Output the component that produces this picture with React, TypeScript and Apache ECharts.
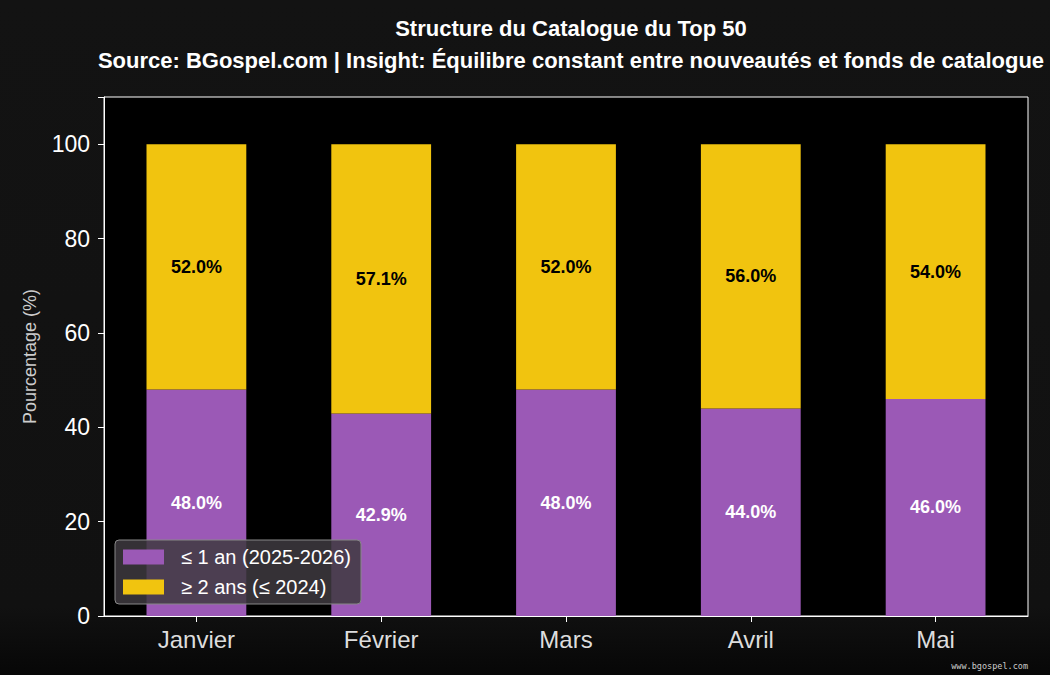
import React, { useEffect, useRef } from "react";
import * as echarts from "echarts";

const months = ["Janvier", "Février", "Mars", "Avril", "Mai"];
const recent = [48.0, 42.9, 48.0, 44.0, 46.0];
const catalogue = [52.0, 57.1, 52.0, 56.0, 54.0];
const seriesNames = ["≤ 1 an (2025-2026)", "≥ 2 ans (≤ 2024)"];
const yTicks = [0, 20, 40, 60, 80, 100];

export default function App() {
  const ref = useRef<HTMLDivElement>(null);
  useEffect(() => {
    if (!ref.current) return;
    const chart = echarts.init(ref.current, undefined, { renderer: "svg" });
    const font = "'Liberation Sans', Arial, sans-serif";
    chart.setOption({
      animation: false,
      backgroundColor: {
        type: "linear",
        x: 0, y: 0, x2: 0, y2: 1,
        colorStops: [
          { offset: 0, color: "#131313" },
          { offset: 0.9, color: "#111111" },
          { offset: 1, color: "#070707" },
        ],
      },
      title: [
        {
          text: "Structure du Catalogue du Top 50",
          left: 566,
          top: 12,
          textAlign: "center",
          textStyle: { color: "#ffffff", fontSize: 22, fontWeight: "bold", fontFamily: font },
        },
        {
          text: "Source: BGospel.com | Insight: Équilibre constant entre nouveautés et fonds de catalogue",
          left: 566,
          top: 44,
          textAlign: "center",
          textStyle: { color: "#ffffff", fontSize: 22, fontWeight: "bold", fontFamily: font },
        },
      ],
      grid: {
        left: 104,
        right: 22,
        top: 97,
        bottom: 59,
        show: true,
        backgroundColor: "#000000",
        borderColor: "#ffffff",
        borderWidth: 1,
      },
      legend: {
        left: 115,
        top: 540,
        orient: "vertical",
        data: seriesNames,
        icon: "rect",
        itemWidth: 41,
        itemHeight: 15,
        itemGap: 10,
        padding: [7, 10, 7, 8],
        backgroundColor: "rgba(62,58,64,0.85)",
        borderColor: "#888888",
        borderWidth: 1,
        borderRadius: 4,
        textStyle: { color: "#ffffff", fontSize: 20, fontFamily: font, padding: [0, 0, 0, 12] },
      },
      xAxis: {
        type: "category",
        data: months,
        axisLine: { show: true, lineStyle: { color: "#ffffff", width: 1 } },
        axisTick: { show: true, alignWithLabel: true, length: 6, lineStyle: { color: "#ffffff" } },
        axisLabel: { color: "#dddddd", fontSize: 24, fontFamily: font, margin: 11 },
      },
      yAxis: {
        type: "value",
        min: 0,
        max: 110,
        interval: 20,
        name: "Pourcentage (%)",
        nameLocation: "middle",
        nameGap: 65,
        nameTextStyle: { color: "#cccccc", fontSize: 18, fontFamily: font },
        axisLine: { show: true, lineStyle: { color: "#ffffff", width: 1 } },
        axisTick: { show: true, length: 6, lineStyle: { color: "#ffffff" } },
        splitLine: { show: false },
        axisLabel: {
          color: "#ffffff",
          fontSize: 23,
          fontFamily: font,
          margin: 14,
          formatter: (v: number) => (yTicks.includes(v) ? String(v) : ""),
        },
      },
      series: [
        {
          name: seriesNames[0],
          type: "bar",
          stack: "total",
          data: recent,
          barWidth: "54%",
          itemStyle: { color: "#9b59b6" },
          label: {
            show: true,
            position: "inside",
            formatter: (p: any) => p.value.toFixed(1) + "%",
            color: "#ffffff",
            fontSize: 18,
            fontWeight: "bold",
            fontFamily: font,
          },
        },
        {
          name: seriesNames[1],
          type: "bar",
          stack: "total",
          data: catalogue,
          barWidth: "54%",
          itemStyle: { color: "#f1c40f" },
          label: {
            show: true,
            position: "inside",
            formatter: (p: any) => p.value.toFixed(1) + "%",
            color: "#000000",
            fontSize: 18,
            fontWeight: "bold",
            fontFamily: font,
          },
        },
      ],
      graphic: [
        {
          type: "text",
          right: 22,
          top: 661,
          style: { text: "www.bgospel.com", fill: "#cccccc", fontSize: 8.5, fontFamily: "'DejaVu Sans Mono', monospace" },
        },
      ],
    });
    return () => chart.dispose();
  }, []);
  return <div ref={ref} style={{ position: "fixed", left: 0, top: 0, width: 1050, height: 675 }} />;
}
